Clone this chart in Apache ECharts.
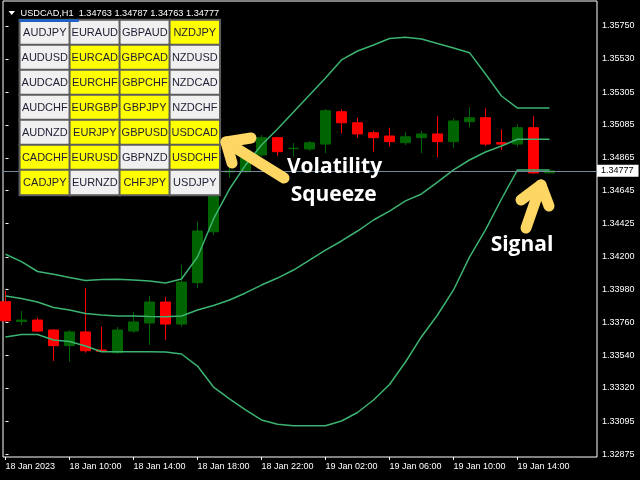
<!DOCTYPE html>
<html><head><meta charset="utf-8">
<script src="https://cdn.jsdelivr.net/npm/echarts@6/dist/echarts.min.js"></script>
<style>html,body{margin:0;padding:0;background:#000}#c{width:640px;height:480px}</style>
</head><body><div id="c"></div>
<script>
const symbolName = 'USDCAD,H1';
const times = ['18 Jan 06:00','18 Jan 07:00','18 Jan 08:00','18 Jan 09:00','18 Jan 10:00','18 Jan 11:00','18 Jan 12:00','18 Jan 13:00','18 Jan 14:00','18 Jan 15:00','18 Jan 16:00','18 Jan 17:00','18 Jan 18:00','18 Jan 19:00','18 Jan 20:00','18 Jan 21:00','18 Jan 22:00','18 Jan 23:00','19 Jan 00:00','19 Jan 01:00','19 Jan 02:00','19 Jan 03:00','19 Jan 04:00','19 Jan 05:00','19 Jan 06:00','19 Jan 07:00','19 Jan 08:00','19 Jan 09:00','19 Jan 10:00','19 Jan 11:00','19 Jan 12:00','19 Jan 13:00','19 Jan 14:00','19 Jan 15:00','19 Jan 16:00'];
const open  = [1.33898,1.33765,1.33775,1.33708,1.33603,1.33695,1.33574,1.33556,1.33701,1.33755,1.33896,1.33748,1.34026,1.34368,1.34769,1.34771,1.34884,1.35000,1.34926,1.34924,1.34957,1.35174,1.35100,1.35033,1.35011,1.34966,1.35000,1.35025,1.34973,1.35107,1.35134,1.34966,1.34957,1.35067,1.34763];
const high  = [1.33970,1.33836,1.33789,1.33715,1.33708,1.33990,1.33730,1.33728,1.33829,1.33936,1.33930,1.34145,1.34436,1.34769,1.34816,1.34884,1.35018,1.35006,1.34964,1.34978,1.35193,1.35190,1.35134,1.35047,1.35067,1.35040,1.35045,1.35145,1.35130,1.35204,1.35197,1.35056,1.35090,1.35145,1.34787];
const low   = [1.33762,1.33742,1.33695,1.33500,1.33495,1.33556,1.33564,1.33547,1.33690,1.33607,1.33641,1.33730,1.33990,1.34346,1.34729,1.34763,1.34872,1.34877,1.34872,1.34910,1.34895,1.35029,1.35000,1.34906,1.34939,1.34951,1.34895,1.34868,1.34929,1.35067,1.34944,1.34917,1.34939,1.34756,1.34763];
const close = [1.33770,1.33775,1.33701,1.33603,1.33695,1.33569,1.33565,1.33708,1.33762,1.33896,1.33748,1.34030,1.34373,1.34729,1.34776,1.34863,1.35000,1.34906,1.34929,1.34966,1.35181,1.35100,1.35025,1.35000,1.34973,1.35006,1.35025,1.34973,1.35112,1.35134,1.34957,1.34957,1.35067,1.34763,1.34777];
const upperBand  = [1.34217,1.34167,1.34101,1.34082,1.34061,1.34041,1.34047,1.34049,1.34044,1.34037,1.34024,1.34051,1.34198,1.34454,1.34655,1.34816,1.34951,1.35058,1.35172,1.35287,1.35401,1.35522,1.35582,1.35622,1.35666,1.35674,1.35663,1.35632,1.35602,1.35571,1.35428,1.35280,1.35199,1.35199,1.35199];
const middleBand = [1.33936,1.33920,1.33896,1.33859,1.33842,1.33819,1.33809,1.33802,1.33802,1.33799,1.33797,1.33802,1.33842,1.33873,1.33910,1.33957,1.34010,1.34057,1.34111,1.34178,1.34245,1.34306,1.34373,1.34447,1.34507,1.34575,1.34622,1.34702,1.34783,1.34850,1.34904,1.34944,1.34989,1.34989,1.34989];
const lowerBand  = [1.33661,1.33678,1.33678,1.33641,1.33631,1.33601,1.33562,1.33562,1.33562,1.33562,1.33560,1.33547,1.33466,1.33325,1.33245,1.33171,1.33104,1.33075,1.33065,1.33065,1.33065,1.33097,1.33154,1.33238,1.33342,1.33493,1.33663,1.33809,1.33977,1.34198,1.34380,1.34588,1.34783,1.34783,1.34783];
const tickTimes  = ['18 Jan 06:00','18 Jan 10:00','18 Jan 14:00','18 Jan 18:00','18 Jan 22:00','19 Jan 02:00','19 Jan 06:00','19 Jan 10:00','19 Jan 14:00'];
const tickLabels = ['18 Jan 2023','18 Jan 10:00','18 Jan 14:00','18 Jan 18:00','18 Jan 22:00','19 Jan 02:00','19 Jan 06:00','19 Jan 10:00','19 Jan 14:00'];
const priceTicks = [1.32875,1.33095,1.33320,1.33540,1.33760,1.33980,1.34200,1.34425,1.34645,1.34865,1.35085,1.35305,1.35530,1.35750];
const pairRows = [
  ['AUDJPY','EURAUD','GBPAUD','NZDJPY'],
  ['AUDUSD','EURCAD','GBPCAD','NZDUSD'],
  ['AUDCAD','EURCHF','GBPCHF','NZDCAD'],
  ['AUDCHF','EURGBP','GBPJPY','NZDCHF'],
  ['AUDNZD','EURJPY','GBPUSD','USDCAD'],
  ['CADCHF','EURUSD','GBPNZD','USDCHF'],
  ['CADJPY','EURNZD','CHFJPY','USDJPY']
];
const pairFlags = [
  [0,0,0,1],
  [0,1,1,0],
  [0,1,1,0],
  [0,1,1,0],
  [0,1,1,1],
  [1,1,0,1],
  [1,0,1,0]
];
const notes = ['Volatility', 'Squeeze', 'Signal'];

const tickIdx = tickTimes.map(t => times.indexOf(t));
const last = times.length - 1;
const candleData = times.map((t, i) => [i, open[i], close[i], low[i], high[i]]);
const toLine = arr => arr.map((v, i) => [i, v]);
const heatData = [];
pairRows.forEach((row, r) => row.forEach((p, c) => heatData.push({ name: p, value: [c, r, pairFlags[r][c]] })));

const chart = echarts.init(document.getElementById('c'), null, { renderer: 'canvas', width: 640, height: 480 });
const bandStyle = { color: '#3cb371', width: 1.5 };
const YEL = '#fdd663';
const arrowStyle = { stroke: YEL, fill: null, lineWidth: 11, lineCap: 'round', lineJoin: 'round' };
const option = {
  backgroundColor: '#000000',
  animation: false,
  grid: [
    { left: 3, top: 1, right: 43, bottom: 23, show: true, borderColor: '#ffffff', borderWidth: 1, backgroundColor: 'transparent', containLabel: false, outerBoundsMode: 'none' },
    { left: 19.8, top: 20, width: 200, height: 175, containLabel: false, outerBoundsMode: 'none' }
  ],
  xAxis: [
    { type: 'value', gridIndex: 0, min: -0.15625, max: 36.96875, splitLine: { show: false }, axisLine: { show: false },
      axisTick: { show: true, customValues: tickIdx, length: 3, lineStyle: { color: '#ffffff', width: 1 } },
      axisLabel: { show: true, customValues: tickIdx, formatter: v => tickLabels[tickIdx.indexOf(Math.round(v))] || '',
        color: '#ffffff', fontSize: 9, fontFamily: 'Liberation Sans', align: 'left', margin: 5 } },
    { type: 'category', gridIndex: 1, data: [0, 1, 2, 3], show: false }
  ],
  yAxis: [
    { type: 'value', gridIndex: 0, position: 'right', min: 1.32855, max: 1.35918, splitLine: { show: false }, axisLine: { show: false },
      axisTick: { show: true, customValues: priceTicks, length: 3, lineStyle: { color: '#ffffff', width: 1 } },
      axisLabel: { show: true, customValues: priceTicks, formatter: v => v.toFixed(5), color: '#ffffff', fontSize: 9, fontFamily: 'Liberation Sans', margin: 5 } },
    { type: 'category', gridIndex: 1, data: [0, 1, 2, 3, 4, 5, 6], inverse: true, show: false }
  ],
  visualMap: [{ type: 'piecewise', show: false, seriesIndex: 4, dimension: 2,
    pieces: [{ min: -0.5, max: 0.5, color: '#f0f0f0' }, { min: 0.5, max: 1.5, color: '#ffff00' }] }],
  series: [
    { type: 'candlestick', xAxisIndex: 0, yAxisIndex: 0, data: candleData, barWidth: 11, z: 2, silent: true, clip: true,
      itemStyle: { color: '#006400', color0: '#ff0000', borderColor: '#006400', borderColor0: '#ff0000', borderWidth: 1 } },
    { type: 'line', xAxisIndex: 0, yAxisIndex: 0, data: toLine(upperBand), symbol: 'none', lineStyle: bandStyle, z: 3, silent: true },
    { type: 'line', xAxisIndex: 0, yAxisIndex: 0, data: toLine(middleBand), symbol: 'none', lineStyle: bandStyle, z: 3, silent: true,
      markLine: { silent: true, symbol: 'none', animation: false, precision: 5,
        lineStyle: { color: '#778899', type: 'solid', width: 1 },
        label: { show: true, position: 'end', distance: 0, formatter: close[last].toFixed(5), color: '#000000', backgroundColor: '#ffffff',
          fontSize: 9, fontFamily: 'Liberation Sans', padding: [2, 5, 1, 4] },
        emphasis: { disabled: true },
        data: [{ yAxis: close[last] }] } },
    { type: 'line', xAxisIndex: 0, yAxisIndex: 0, data: toLine(lowerBand), symbol: 'none', lineStyle: bandStyle, z: 3, silent: true },
    { type: 'heatmap', xAxisIndex: 1, yAxisIndex: 1, data: heatData, z: 10, silent: true,
      itemStyle: { borderColor: '#5c5c5c', borderWidth: 2 },
      label: { show: true, formatter: '{b}', color: '#1e1e34', fontSize: 11, fontFamily: 'Liberation Sans' },
      emphasis: { disabled: true } }
  ],
  graphic: [
    { type: 'polygon', z: 100, shape: { points: [[8.5, 11], [15, 11], [11.75, 15]] }, style: { fill: '#ffffff' } },
    { type: 'text', z: 100, x: 20.5, y: 13, style: { text: symbolName + '  ' + [open[last], high[last], low[last], close[last]].map(v => v.toFixed(5)).join(' '),
        fill: '#ffffff', font: '9.2px "Liberation Sans"', verticalAlign: 'middle' } },
    { type: 'rect', z: 101, shape: { x: 19.3, y: 19.3, width: 59.5, height: 2.7 }, style: { fill: '#1e62c8' } },
    { type: 'polyline', z: 100, shape: { points: [[284, 178], [226, 142]] }, style: arrowStyle },
    { type: 'polyline', z: 100, shape: { points: [[251, 138], [226, 142], [232, 163]] }, style: arrowStyle },
    { type: 'polyline', z: 100, shape: { points: [[526, 228], [541, 185]] }, style: arrowStyle },
    { type: 'polyline', z: 100, shape: { points: [[521, 200], [541, 185], [549, 206]] }, style: arrowStyle },
    { type: 'text', z: 100, x: 334.5, y: 167, style: { text: notes[0], fill: '#ffffff', font: 'bold 21px "Open Sans"', align: 'center', verticalAlign: 'middle' } },
    { type: 'text', z: 100, x: 333.7, y: 195, style: { text: notes[1], fill: '#ffffff', font: 'bold 21px "Open Sans"', align: 'center', verticalAlign: 'middle' } },
    { type: 'text', z: 100, x: 522, y: 245, style: { text: notes[2], fill: '#ffffff', font: 'bold 21px "Open Sans"', align: 'center', verticalAlign: 'middle' } }
  ]
};
chart.setOption(option);
</script></body></html>
